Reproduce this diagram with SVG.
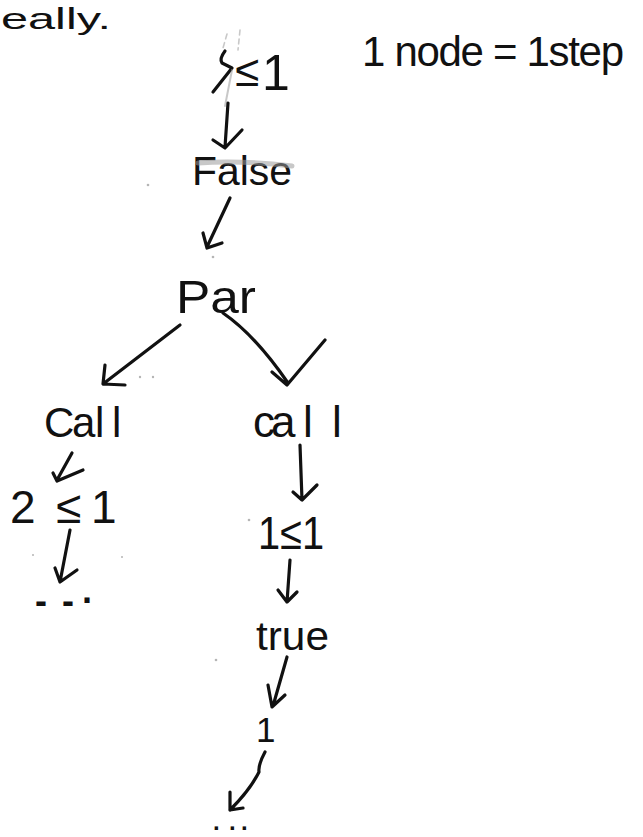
<svg xmlns="http://www.w3.org/2000/svg" width="643" height="837" viewBox="0 0 643 837">
  <style>
    .hand { font-family: "Liberation Sans", "DejaVu Sans", sans-serif; fill: #111; }
    .ink { fill: none; stroke: #111; stroke-width: 3.2; stroke-linecap: round; stroke-linejoin: round; }
    .smudge { fill: none; stroke: #9a9a9a; stroke-linecap: round; opacity: 0.55; }
    .speck { fill: #b5b5b5; }
  </style>
  <rect width="643" height="837" fill="#ffffff"/>

  <!-- header fragment and note -->
  <text class="hand" x="1" y="29" font-size="29" textLength="110" lengthAdjust="spacingAndGlyphs">eally.</text>
  <text class="hand" x="362" y="66" font-size="42" textLength="262" lengthAdjust="spacing">1 node = 1step</text>

  <!-- nodes -->
  <g id="n-le">
    <!-- crossed-out mark before the comparison -->
    <path class="ink" stroke-width="4" d="M225,51 Q219,59 222,63 L232,68 L213,92"/>
    <path class="smudge" stroke-width="1.6" stroke-dasharray="5 4" d="M227,34 L223,48 M240,30 L238,50"/>
    <path class="smudge" stroke-width="2" d="M232,70 L225,106"/>
    <text class="hand" x="235" y="86" font-size="44">≤<tspan x="262" y="90" font-size="50">1</tspan></text>
  </g>
  <g id="n-false">
    <text class="hand" x="192" y="185" font-size="40" textLength="100" lengthAdjust="spacingAndGlyphs">False</text>
    <path class="smudge" stroke-width="5" d="M198,163 Q240,160 292,166"/>
  </g>
  <g id="n-par">
    <text class="hand" x="176" y="313" font-size="46" textLength="80" lengthAdjust="spacingAndGlyphs">Par</text>
  </g>
  <g id="n-call-left">
    <text class="hand" x="44 72 95 112" y="437" font-size="42">Call</text>
  </g>
  <g id="n-call-right">
    <text class="hand" x="253 271 303 332" y="437" font-size="44">call</text>
  </g>
  <g id="n-2le1">
    <text class="hand" x="10 56 91" y="523" font-size="46">2≤1</text>
  </g>
  <g id="n-dots-left">
    <text class="hand" x="35 62 82" y="613" font-size="36" font-weight="bold">--·</text>
  </g>
  <g id="n-1le1">
    <text class="hand" x="258" y="549" font-size="46" textLength="66" lengthAdjust="spacingAndGlyphs">1≤1</text>
  </g>
  <g id="n-true">
    <text class="hand" x="256" y="650" font-size="40" textLength="73" lengthAdjust="spacingAndGlyphs">true</text>
  </g>
  <g id="n-one">
    <text class="hand" x="256" y="742" font-size="35">1</text>
  </g>
  <g id="n-dots-bottom">
    <text class="hand" x="213 229 241" y="830" font-size="24" font-weight="bold">...</text>
  </g>

  <!-- connectors -->
  <g id="connectors">
    <path class="ink" d="M228,103 L225,147 M213,140 L225,148 L242,130"/>
    <path class="ink" d="M230,198 L207,247 M203,233 L207,248 L222,243"/>
    <path class="ink" d="M180,325 L103,384 M105,365 L103,384 L125,385"/>
    <path class="ink" d="M223,313 Q255,335 288,383 M272,372 L287,385 L325,340"/>
    <path class="ink" d="M72,453 L57,480 M53,473 L57,481 L83,470"/>
    <path class="ink" d="M70,530 L60,582 M55,568 L60,582 L77,570"/>
    <path class="ink" d="M300,445 L302,500 M293,492 L302,500 L317,485"/>
    <path class="ink" d="M290,560 L287,602 M278,590 L287,602 L297,592"/>
    <path class="ink" d="M287,657 L273,706 M268,685 L272,707 L285,695"/>
    <path class="ink" d="M265,752 Q258,765 259,772 Q250,790 230,810 M230,792 L230,810 L243,808"/>
  </g>

  <!-- paper specks -->
  <g id="specks">
    <circle class="speck" cx="148" cy="185" r="1.3"/>
    <circle class="speck" cx="213" cy="257" r="1.3"/>
    <circle class="speck" cx="140" cy="377" r="1.2"/>
    <circle class="speck" cx="153" cy="377" r="1.2"/>
    <circle class="speck" cx="249" cy="520" r="1.3"/>
    <circle class="speck" cx="33" cy="555" r="1"/>
    <circle class="speck" cx="122" cy="557" r="1"/>
    <circle class="speck" cx="216" cy="660" r="1.3"/>
  </g>
</svg>
